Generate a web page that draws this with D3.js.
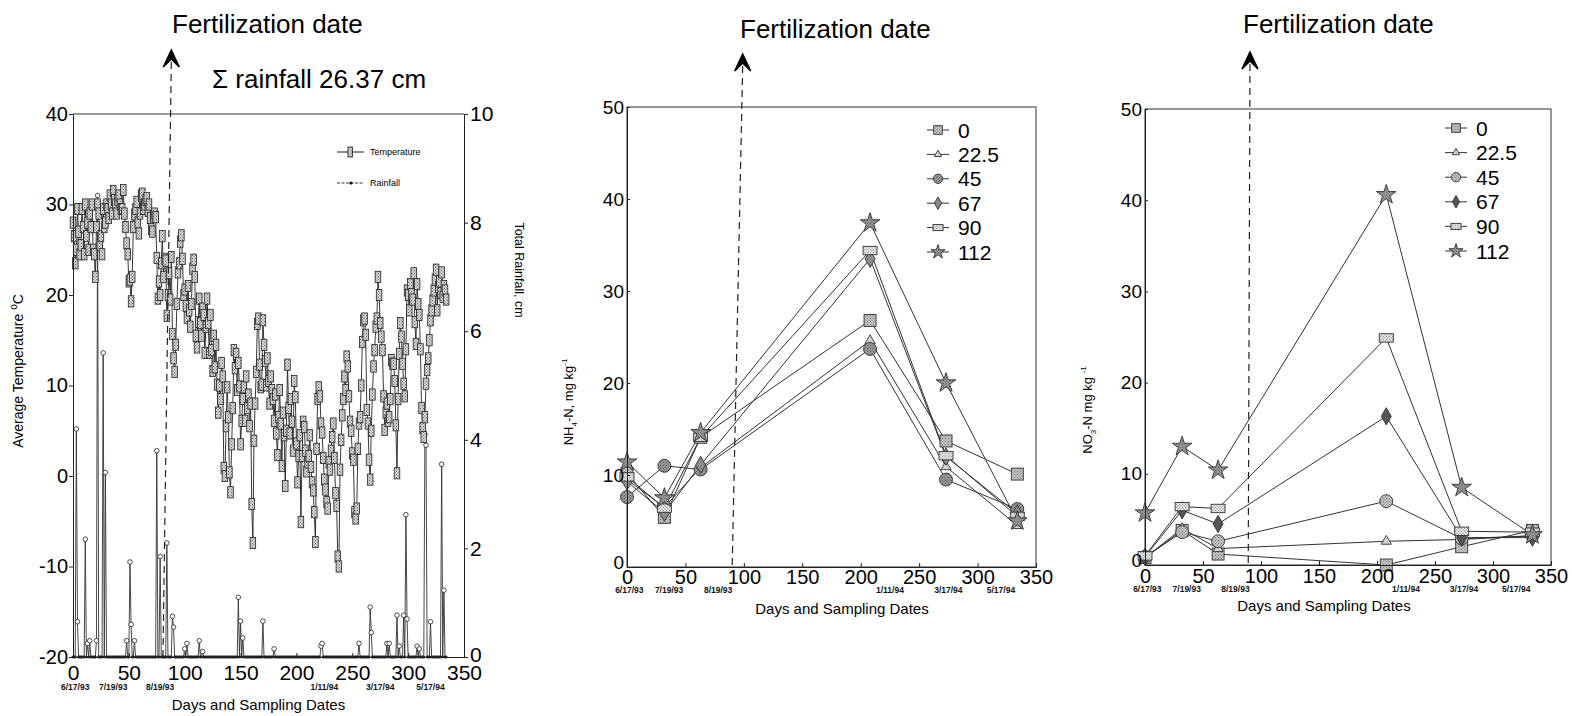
<!DOCTYPE html>
<html>
<head>
<meta charset="utf-8">
<script src="https://cdn.jsdelivr.net/npm/d3@7"></script>
<style>
  body { margin: 0; background: #fff; }
  svg { font-family: "Liberation Sans", Arial, Helvetica, sans-serif; }
</style>
</head>
<body>
<svg id="fig" width="1572" height="716"></svg>
<script>
// ---- data ----
const xTicks = [0, 50, 100, 150, 200, 250, 300, 350];
const sampleDays = [0, 32, 63, 208, 273, 334];
const sampleDates = ["6/17/93", "7/19/93", "8/19/93", "1/11/94", "3/17/94", "5/17/94"];
const dateLabelDays = [2, 36, 78, 225, 275, 320];
const rates = ["0", "22.5", "45", "67", "90", "112"];

// NH4-N, mg/kg by N rate
const nh4_0 = [10.2, 5.4, 14.1, 26.8, 13.7, 10.1];
const nh4_22 = [9.5, 6.5, 10.8, 24.6, 10.9, 4.5];
const nh4_45 = [7.6, 11.0, 10.6, 23.7, 9.5, 6.3];
const nh4_67 = [9.3, 5.9, 11.1, 33.5, 12.0, 5.8];
const nh4_90 = [9.8, 6.4, 14.1, 34.4, 12.1, 5.5];
const nh4_112 = [11.4, 7.5, 14.6, 37.4, 20.0, 5.0];

// NO3-N, mg/kg by N rate
const no3_0 = [0.8, 3.8, 1.2, 0.0, 2.0, 3.8];
const no3_22 = [0.8, 4.0, 1.8, 2.6, 2.8, 3.2];
const no3_45 = [0.9, 3.6, 2.6, 7.0, 2.9, 3.2];
const no3_67 = [0.9, 6.0, 4.5, 16.3, 3.0, 3.0];
const no3_90 = [1.0, 6.4, 6.2, 24.9, 3.7, 3.6];
const no3_112 = [5.7, 13.0, 10.4, 40.6, 8.5, 3.3];

// daily average temperature, day 0 .. 334
const tempC = [
  28, 26.5, 23.5, 25, 29.5, 27, 24.5, 25.5, 29.5, 27.5,
  24.5, 30, 26.5, 28, 25, 29, 27.5, 30, 25, 24.5,
  22, 27.5, 30, 29, 25.5, 26.5, 24.5, 29.5, 27.5, 28,
  30, 29.5, 28.5, 31, 30, 29, 31.5, 30.5, 30, 29,
  30.5, 31, 30, 29.5, 29.5, 31.6, 29, 27.5, 25.7, 24.5,
  21.5, 21.7, 19.3, 22, 27.5, 28.9, 29.5, 30.3, 28, 26.8,
  29, 31, 31.2, 29.5, 30, 30.5, 30.7, 29.3, 30, 28.5,
  27.3, 27, 28.7, 29, 28.6, 24.1, 19.6, 21.5, 20, 23.5,
  26.5, 22, 24, 23.8, 17.7, 20, 22.4, 19.5, 24.2, 15.7,
  13, 11.5, 14.5, 19, 22.5, 23.5, 25.9, 26.6, 24, 20,
  20.6, 18.8, 17.5, 21, 18.3, 16.5, 19, 22.9, 23.9, 22,
  15.5, 14.2, 17, 19.6, 16.9, 15.5, 18.5, 17.8, 13.6, 16.5,
  19.6, 16.9, 13.6, 17.8, 13.9, 11.6, 15.5, 12, 14.5, 10.1,
  7, 10, 8.5, 12.5, 11, 0.9, 0, 5.5, 9.8, 6.5,
  0.4, -1.8, 3.5, 7.5, 13.9, 11.9, 13.5, 9.5, 12.5, 9.9,
  3.5, 6.1, 8.5, 9.8, 6.1, 11, 7.5, 9, 5.5, 8,
  -3.1, -7.4, 3.9, 8, 11.5, 16.8, 17.4, 12.3, 9.8, 10.1,
  17.2, 14.5, 12.7, 10, 13, 10.5, 8, 11, 9.5, 8.5,
  6.1, 9, 4.7, 2.3, 6.5, 9.5, 5.8, 1.1, 7, 4.5,
  -1.1, 5, 12.3, 7.5, 4.7, 8.5, 6, 2.8, 10.5, 8.7,
  3.6, -0.7, 2.2, 4.5, -5.1, 2.2, 6, 5.4, 2.8, 0.5,
  1.5, 2.2, 4.5, 1, -0.7, -1.6, -4, -7.3, 3, 8.5,
  9.8, 8.8, 5.8, 4.8, 2, -0.4, -1.5, -2.9, -3.6, 1.5,
  0.7, 2.8, 4.3, 5.8, 2, -1.9, -3.3, -8.9, -10, 0.7,
  4, 6.7, 8.5, 11, 9.5, 13.2, 12.1, 8.8, 6, 5,
  2.5, 1.8, -4, -4.7, -3.6, 3, 5.8, 6.5, 10, 14.8,
  17.2, 17.4, 15.6, 7.3, 5.8, 1.8, -0.4, 5, 9, 12.1,
  13.9, 16.5, 17.4, 22, 20, 16.9, 15.4, 13.9, 8.8, 5.1,
  7, 8, 6.1, 6.5, 8.5, 12.8, 12.4, 12.4, 10.5, 5.6,
  0.3, 8.5, 13.5, 16.9, 15.4, 12.4, 10.2, 8.8, 14, 20.5,
  20, 18.3, 21.2, 20.1, 19.5, 22.4, 17, 14.6, 21.2, 19,
  17.8, 14, 7.5, 5.3, 4.3, 6.5, 10.2, 11.7, 13, 15,
  17.2, 18.3, 19.4, 20.5, 21.7, 22.8, 18.3, 20.9, 21.5, 20.2,
  22.5, 19.8, 21, 20.5, 19.5
];

// rainfall events (cm); every other day is 0
const rainDays = [3, 4, 11, 13, 15, 21, 22, 27, 29, 48, 51, 52, 55, 75, 78, 84, 89, 90,
  100, 102, 113, 116, 148, 150, 152, 170, 180, 222, 223, 256, 266, 267, 281, 283,
  290, 292, 296, 298, 299, 308, 310, 315, 316, 320, 330, 332];
const rainCm = [4.2, 0.65, 2.17, 0.25, 0.3, 0.3, 8.5, 5.6, 3.4, 0.3, 1.75, 0.6, 0.3, 3.8, 1.85, 2.1, 0.75, 0.55,
  0.15, 0.25, 0.3, 0.1, 1.1, 0.66, 0.35, 0.66, 0.15, 0.2, 0.25, 0.25, 0.92, 0.45, 0.25, 0.25,
  0.77, 0.2, 0.77, 2.62, 0.7, 0.2, 0.15, 4.1, 3.9, 0.65, 3.55, 1.23];

// ---- drawing ----
const svg = d3.select("#fig");
const defs = svg.append("defs");

function stipple(id, base, dot) {
  const p = defs.append("pattern").attr("id", id)
    .attr("width", 3).attr("height", 3).attr("patternUnits", "userSpaceOnUse");
  p.append("rect").attr("width", 3).attr("height", 3).attr("fill", base);
  p.append("rect").attr("width", 1).attr("height", 1).attr("fill", dot);
  p.append("rect").attr("x", 1.5).attr("y", 1.5).attr("width", 1).attr("height", 1).attr("fill", dot);
}
stipple("stLight", "#e2e2e2", "#999");
stipple("stMid", "#c4c4c4", "#777");
stipple("stDark", "#9a9a9a", "#555");
stipple("stBox", "#d6d6d6", "#666");

const plainNum = d => String(d);

function fertMark(xTop, xBottom, yTip, yBottom, tx, ty) {
  svg.append("line")
    .attr("x1", xTop).attr("y1", yTip + 12).attr("x2", xBottom).attr("y2", yBottom)
    .attr("stroke", "#222").attr("stroke-width", 1.2).attr("stroke-dasharray", "7,5");
  svg.append("path")
    .attr("d", `M${xTop},${yTip} L${xTop + 8},${yTip + 17} L${xTop},${yTip + 9} L${xTop - 8},${yTip + 17} Z`)
    .attr("fill", "#000").attr("stroke", "#000").attr("stroke-width", 1.5).attr("stroke-linejoin", "miter");
  svg.append("text").attr("x", tx).attr("y", ty)
    .attr("font-size", 26).attr("fill", "#000").text("Fertilization date");
}

function dateLabels(g, x, y) {
  g.selectAll(".dl").data(sampleDates).enter().append("text")
    .attr("class", "dl")
    .attr("x", (d, i) => x(dateLabelDays[i]))
    .attr("y", y)
    .attr("text-anchor", "middle")
    .attr("font-size", 8.5).attr("font-weight", "bold").attr("fill", "#111")
    .text(d => d);
}

function styleAxis(g, size) {
  g.selectAll("text").attr("font-size", size).attr("fill", "#000")
    .attr("font-family", "'Liberation Sans', Arial, sans-serif");
  g.selectAll("line").attr("stroke", "#222");
  g.select(".domain").attr("stroke", "#222");
}

// ---------- left panel: temperature and rainfall ----------
(function () {
  const x = d3.scaleLinear().domain([0, 350]).range([73, 464]);
  const y = d3.scaleLinear().domain([-20, 40]).range([657, 114]);
  const yr = d3.scaleLinear().domain([0, 10]).range([657, 114]);
  const g = svg.append("g");

  const rainDaily = tempC.map(() => 0);
  rainDays.forEach((d, i) => { rainDaily[d] = rainCm[i]; });

  // frame
  g.append("line").attr("x1", x(0)).attr("x2", x(350)).attr("y1", y(40)).attr("y2", y(40))
    .attr("stroke", "#333").attr("stroke-width", 1);

  // rainfall
  g.append("path").datum(rainDaily)
    .attr("d", d3.line().x((d, i) => x(i)).y(d => yr(d)))
    .attr("fill", "none").attr("stroke", "#333").attr("stroke-width", 0.9);
  g.selectAll(".rdot").data(rainDaily).enter().append("circle")
    .attr("cx", (d, i) => x(i)).attr("cy", d => yr(d))
    .attr("r", d => d > 0 ? 2.3 : 1.1)
    .attr("fill", d => d > 0 ? "#fff" : "#111")
    .attr("stroke", "#222").attr("stroke-width", 0.8);

  // temperature
  g.append("path").datum(tempC)
    .attr("d", d3.line().x((d, i) => x(i)).y(d => y(d)))
    .attr("fill", "none").attr("stroke", "#222").attr("stroke-width", 0.9);
  g.selectAll(".tbox").data(tempC).enter().append("rect")
    .attr("x", (d, i) => x(i) - 2.8).attr("y", d => y(d) - 5.6)
    .attr("width", 5.6).attr("height", 11.2)
    .attr("fill", "url(#stBox)").attr("stroke", "#222").attr("stroke-width", 0.8);

  // axes
  const ax = g.append("g").attr("transform", `translate(0,${y(-20)})`)
    .call(d3.axisBottom(x).tickValues(xTicks).tickSize(-4).tickPadding(8).tickFormat(plainNum));
  styleAxis(ax, 21);
  const ayl = g.append("g").attr("transform", `translate(${x(0)},0)`)
    .call(d3.axisLeft(y).tickValues([-20, -10, 0, 10, 20, 30, 40]).tickSize(4).tickPadding(1).tickFormat(plainNum));
  styleAxis(ayl, 20);
  const ayr = g.append("g").attr("transform", `translate(${x(350)},0)`)
    .call(d3.axisRight(yr).tickValues([0, 2, 4, 6, 8, 10]).tickSize(4).tickPadding(2).tickFormat(plainNum));
  styleAxis(ayr, 21);
  ayr.selectAll("text").filter(d => d === 0).attr("dy", "0.2em");

  dateLabels(g, x, 690);

  g.append("text").attr("x", (x(0) + x(350)) / 2 - 10).attr("y", 710).attr("text-anchor", "middle")
    .attr("font-size", 15).text("Days and Sampling Dates");

  const tl = g.append("text").attr("transform", `translate(23,371) rotate(-90)`)
    .attr("text-anchor", "middle").attr("font-size", 14);
  tl.append("tspan").text("Average Temperature ");
  tl.append("tspan").attr("font-size", 10).attr("dy", -6).text("o");
  tl.append("tspan").attr("dy", 6).text("C");

  g.append("text").attr("transform", `translate(515,270) rotate(90)`)
    .attr("text-anchor", "middle").attr("font-size", 12.5).text("Total Rainfall, cm");

  // legend
  g.append("line").attr("x1", 337).attr("x2", 364).attr("y1", 152).attr("y2", 152)
    .attr("stroke", "#222").attr("stroke-width", 1);
  g.append("rect").attr("x", 348).attr("y", 147).attr("width", 4.5).attr("height", 10)
    .attr("fill", "url(#stBox)").attr("stroke", "#222").attr("stroke-width", 0.8);
  g.append("text").attr("x", 370).attr("y", 155).attr("font-size", 9).attr("fill", "#000").text("Temperature");
  g.append("line").attr("x1", 337).attr("x2", 364).attr("y1", 183).attr("y2", 183)
    .attr("stroke", "#333").attr("stroke-width", 1).attr("stroke-dasharray", "3,1.5");
  g.append("circle").attr("cx", 351).attr("cy", 183).attr("r", 1.6).attr("fill", "#111");
  g.append("text").attr("x", 370).attr("y", 186).attr("font-size", 9).attr("fill", "#000").text("Rainfall");

  fertMark(x(88), x(80.5), 50, 657, 172, 33);
  svg.append("text").attr("x", 212).attr("y", 88).attr("font-size", 26).text("\u03a3 rainfall 26.37 cm");
})();

// ---------- nitrogen panels ----------
const markerStyles = {
  "0":    { shape: "square",   size: 12, fill: "url(#stMid)" },
  "22.5": { shape: "triangle", size: 10, fill: "url(#stLight)" },
  "45":   { shape: "circle",   size: 13, fill: "url(#stDark)" },
  "67":   { shape: "diamond",  size: 12, fill: "url(#stDark)" },
  "90":   { shape: "rect",     size: 14, fill: "url(#stLight)" },
  "112":  { shape: "star",     size: 20, fill: "url(#stDark)" }
};

function drawMarker(g, cx, cy, key, scale, fillOverride) {
  const m = markerStyles[key];
  const s = m.size * scale;
  const fill = fillOverride || m.fill;
  let el;
  if (m.shape === "rect") {
    el = g.append("rect").attr("x", cx - s / 2).attr("y", cy - s * 0.3).attr("width", s).attr("height", s * 0.6);
  } else if (m.shape === "square") {
    el = g.append("rect").attr("x", cx - s / 2).attr("y", cy - s / 2).attr("width", s).attr("height", s);
  } else if (m.shape === "circle") {
    el = g.append("circle").attr("cx", cx).attr("cy", cy).attr("r", s / 2);
  } else {
    const type = { triangle: d3.symbolTriangle, diamond: d3.symbolDiamond, star: d3.symbolStar }[m.shape];
    const area = { triangle: s * s * 0.45, diamond: s * s * 0.6, star: s * s * 0.3 }[m.shape];
    el = g.append("path").attr("transform", `translate(${cx},${cy})`)
      .attr("d", d3.symbol().type(type).size(area)());
  }
  el.attr("fill", fill).attr("stroke", "#333").attr("stroke-width", 0.9);
}

function nitrogenPanel(cfg) {
  const x = d3.scaleLinear().domain([0, 350]).range([cfg.x0, cfg.x1]);
  const y = d3.scaleLinear().domain([0, 50]).range([cfg.y0, cfg.y1]);
  const g = svg.append("g");

  g.append("rect").attr("x", cfg.x0).attr("y", cfg.y1)
    .attr("width", cfg.x1 - cfg.x0).attr("height", cfg.y0 - cfg.y1)
    .attr("fill", "none").attr("stroke", "#333").attr("stroke-width", 1);

  const line = d3.line().x((d, i) => x(sampleDays[i])).y(d => y(d));
  cfg.series.forEach(vals => {
    g.append("path").datum(vals).attr("d", line)
      .attr("fill", "none").attr("stroke", "#333").attr("stroke-width", 1);
  });
  cfg.series.forEach((vals, k) => {
    vals.forEach((v, i) => drawMarker(g, x(sampleDays[i]), y(v), rates[k], 1, cfg.fills[k]));
  });

  const ax = g.append("g").attr("transform", `translate(0,${cfg.y0})`)
    .call(d3.axisBottom(x).tickValues(xTicks).tickSize(-4).tickPadding(cfg.xPad).tickFormat(plainNum));
  styleAxis(ax, 20);
  const ay = g.append("g").attr("transform", `translate(${cfg.x0},0)`)
    .call(d3.axisLeft(y).tickValues([0, 10, 20, 30, 40, 50]).tickSize(-3).tickPadding(3).tickFormat(plainNum));
  styleAxis(ay, 19);
  ay.selectAll("text").filter(d => d === 0).attr("dy", "0.1em");

  dateLabels(g, x, cfg.dateY);
  g.append("text").attr("x", cfg.titleX).attr("y", cfg.titleY).attr("text-anchor", "middle")
    .attr("font-size", 15).text("Days and Sampling Dates");

  // legend
  rates.forEach((r, k) => {
    const ly = cfg.legY + k * cfg.legStep;
    g.append("line").attr("x1", cfg.legX).attr("x2", cfg.legX + 22).attr("y1", ly).attr("y2", ly)
      .attr("stroke", "#333").attr("stroke-width", 1);
    drawMarker(g, cfg.legX + 11, ly, r, 0.72, cfg.fills[k]);
    g.append("text").attr("x", cfg.legX + 31).attr("y", ly + 7.5).attr("font-size", 21).text(r);
  });

  cfg.yLabel(g);
  fertMark(x(cfg.fertTop), x(cfg.fertBottom), cfg.arrowY, cfg.y0, cfg.textX, cfg.textY);
}

nitrogenPanel({
  x0: 627, x1: 1036, y0: 567, y1: 107, xPad: 3, dateY: 593,
  titleX: 842, titleY: 614,
  series: [nh4_0, nh4_22, nh4_45, nh4_67, nh4_90, nh4_112],
  fills: [null, null, null, null, null, null],
  legX: 927, legY: 130, legStep: 24.4,
  fertTop: 99, fertBottom: 90, arrowY: 54, textX: 740, textY: 38,
  yLabel: g => {
    const t = g.append("text").attr("transform", "translate(573,402) rotate(-90)")
      .attr("text-anchor", "middle").attr("font-size", 13);
    t.append("tspan").text("NH");
    t.append("tspan").attr("font-size", 8).attr("dy", 4).text("4");
    t.append("tspan").attr("dy", -4).text("-N, mg kg");
    t.append("tspan").attr("font-size", 8).attr("dy", -6).text("-1");
  }
});

nitrogenPanel({
  x0: 1145, x1: 1551, y0: 565, y1: 109, xPad: 4, dateY: 592,
  titleX: 1324, titleY: 611,
  series: [no3_0, no3_22, no3_45, no3_67, no3_90, no3_112],
  fills: [null, null, "url(#stMid)", "#555", null, null],
  legX: 1445, legY: 128, legStep: 24.6,
  fertTop: 90.5, fertBottom: 89, arrowY: 52, textX: 1243, textY: 33,
  yLabel: g => {
    const t = g.append("text").attr("transform", "translate(1092,410) rotate(-90)")
      .attr("text-anchor", "middle").attr("font-size", 13);
    t.append("tspan").text("NO");
    t.append("tspan").attr("font-size", 8).attr("dy", 4).text("3");
    t.append("tspan").attr("dy", -4).text("-N mg kg ");
    t.append("tspan").attr("font-size", 8).attr("dy", -6).text("-1");
  }
});
</script>
</body>
</html>
